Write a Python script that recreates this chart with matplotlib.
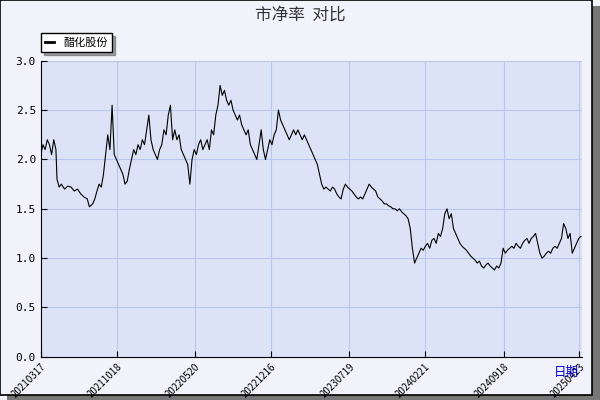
import matplotlib
matplotlib.use("Agg")
import matplotlib.pyplot as plt
from matplotlib.patches import Rectangle

plt.rcParams['font.family'] = ['Noto Sans CJK SC', 'DejaVu Sans']

# trading-day index and P/B values
days = [0,4,8,12,16,20,24,28,30,34,38,44,50,56,62,68,74,80,86,90,96,100,104,108,112,116,120,124,128,132,136,
        140,144,148,152,156,160,164,168,172,176,180,184,188,192,196,200,204,208,212,216,220,224,228,232,236,
        240,244,248,252,256,260,264,268,272,276,280,284,288,292,296,300,304,308,312,316,320,324,328,332,336,
        340,344,348,352,356,360,364,368,372,376,380,384,388,392,396,400,404,408,412,416,420,424,428,432,436,
        440,444,448,452,456,460,464,468,472,476,480,484,488,492,496,500,504,508,512,516,520,524,528,532,536,
        540,544,548,552,556,560,564,568,572,576,580,584,588,592,596,600,604,608,612,616,620,624,628,632,636,
        640,644,648,652,656,660,664,668,672,676,680,684,688,692,696,700,704,708,712,716,720,724,728,732,736,
        740,744,748,752,756,760,764,768,772,776,780,784,788,792,796,800,804,808,812,816,820,824,828,832,836,
        840,844,848,852,856,860,864,868,872,876,880,884,888,892,896,900,904,908,912,916,920,924,928,932,936,
        940,944,948,952,956,960,964,968,972,976,980,984,988,992,996,1000,1004,1008,1012,1014]
values = [2.05,2.15,2.1,2.2,2.15,2.05,2.2,2.1,1.8,1.72,1.75,1.7,1.73,1.72,1.68,1.7,1.65,1.62,1.6,1.52,1.55,1.6,1.68,1.75,
          1.72,1.85,2.05,2.25,2.1,2.55,2.05,2.0,1.95,1.9,1.85,1.75,1.78,1.9,2.0,2.1,2.05,2.15,2.1,2.2,2.15,2.3,
          2.45,2.2,2.1,2.05,2.0,2.1,2.15,2.3,2.25,2.45,2.55,2.2,2.3,2.2,2.25,2.1,2.05,2.0,1.95,1.75,2.0,2.1,2.05,
          2.15,2.2,2.1,2.15,2.2,2.1,2.3,2.25,2.45,2.55,2.75,2.65,2.7,2.6,2.55,2.6,2.5,2.45,2.4,2.45,2.35,2.3,2.25,
          2.3,2.15,2.1,2.05,2.0,2.15,2.3,2.1,2.0,2.1,2.2,2.15,2.25,2.3,2.5,2.4,2.35,2.3,2.25,2.2,2.25,2.3,2.25,
          2.3,2.25,2.2,2.25,2.2,2.15,2.1,2.05,2.0,1.95,1.85,1.75,1.7,1.72,1.7,1.68,1.72,1.7,1.65,1.62,1.6,1.7,1.75,
          1.72,1.7,1.68,1.65,1.62,1.6,1.62,1.6,1.65,1.7,1.75,1.72,1.7,1.68,1.62,1.6,1.58,1.55,1.55,1.53,1.52,1.5,
          1.5,1.48,1.5,1.47,1.45,1.43,1.4,1.3,1.1,0.95,1.0,1.05,1.1,1.08,1.12,1.15,1.1,1.18,1.2,1.15,1.25,1.22,
          1.3,1.45,1.5,1.4,1.45,1.3,1.25,1.2,1.15,1.12,1.1,1.08,1.05,1.02,1.0,0.98,0.95,0.97,0.92,0.9,0.93,0.95,
          0.92,0.9,0.88,0.92,0.9,0.95,1.1,1.05,1.08,1.1,1.12,1.1,1.15,1.12,1.1,1.15,1.18,1.2,1.15,1.2,1.22,1.25,
          1.15,1.05,1.0,1.02,1.05,1.07,1.05,1.1,1.12,1.1,1.15,1.2,1.35,1.3,1.2,1.25,1.05,1.1,1.15,1.2,1.22]
n = min(len(days), len(values))
days = days[:n]; values = values[:n]
tick_frac = [0, 0.14, 0.285, 0.425, 0.57, 0.71, 0.855, 0.995]
tick_labels = ['20210317','20211018','20220520','20221216','20230719','20240221','20240918','20250423']

fig = plt.figure(figsize=(6, 4), dpi=100, facecolor='#f2f2fa')
fig.patches.append(Rectangle((0.012, 0.0), 0.988, 0.985, transform=fig.transFigure,
                             facecolor='#777777', edgecolor='none', zorder=-2))
fig.patches.append(Rectangle((0.0, 0.012), 0.987, 0.987, transform=fig.transFigure,
                             facecolor='#f2f2fa', edgecolor='black', lw=1.2, zorder=-1))
ax = fig.add_axes([0.068, 0.108, 0.902, 0.74])
ax.set_facecolor('#dce3f6')
ax.plot(days, values, color='black', lw=0.8, label='醋化股份')
xmax = days[-1] + 2
ax.set_xlim(0, xmax)
ax.set_ylim(0, 3.0)
ax.set_yticks([0, 0.5, 1.0, 1.5, 2.0, 2.5, 3.0])
ax.set_yticklabels(['0.0','0.5','1.0','1.5','2.0','2.5','3.0'], fontsize=8, family='DejaVu Sans Mono')
ax.set_xticks([f * xmax for f in tick_frac])
ax.set_xticklabels(tick_labels, rotation=45, fontsize=7, ha='right', rotation_mode='anchor')
ax.grid(True, color='#b8c8ec', lw=0.8)
for s in ['top', 'right']:
    ax.spines[s].set_visible(False)
ax.tick_params(direction='in', length=4)
fig.text(0.5, 0.962, '市净率  对比', ha='center', va='center', fontsize=12, color='#333333')
fig.text(0.965, 0.06, '日期', ha='right', fontsize=9, color='#0000cc')
leg = ax.legend(loc='lower left', bbox_to_anchor=(-0.01, 1.01), fontsize=8, frameon=True,
                fancybox=False, edgecolor='black', handlelength=0.8, borderpad=0.4, shadow=True)
for l in leg.get_lines():
    l.set_linewidth(2)
fig.savefig('out.png', dpi=100, facecolor=fig.get_facecolor())
